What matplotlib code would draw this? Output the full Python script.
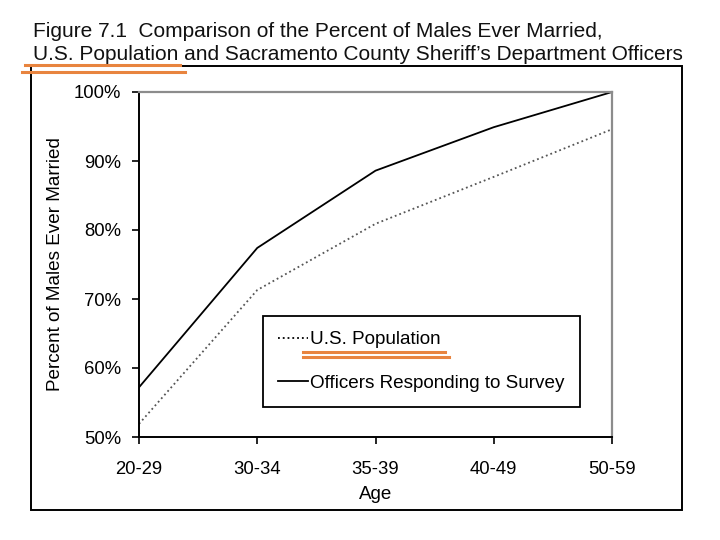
import matplotlib
matplotlib.use("Agg")
import matplotlib.pyplot as plt
from matplotlib.patches import Rectangle
from matplotlib.lines import Line2D
from matplotlib.ticker import FuncFormatter

plt.rcParams['font.family'] = ['Liberation Sans', 'DejaVu Sans']

# Data
age_groups = ["20-29", "30-34", "35-39", "40-49", "50-59"]
us_population = [51.9, 71.3, 80.9, 87.7, 94.6]
officers = [57.2, 77.4, 88.6, 94.9, 100.0]
y_ticks = [50, 60, 70, 80, 90, 100]

W, H = 720, 540
fig = plt.figure(figsize=(7.2, 5.4), dpi=100)


def fx(px):
    return px / W


def fy(py):
    return 1 - py / H


# outer frame around the chart
fig.patches.append(Rectangle((fx(31), fy(510)), fx(682) - fx(31), fy(66) - fy(510),
                             transform=fig.transFigure, fill=False,
                             edgecolor='black', linewidth=1.4, zorder=1))

# title (two lines)
fig.text(fx(33), fy(37), "Figure 7.1  Comparison of the Percent of Males Ever Married,",
         fontsize=15, va='baseline', ha='left', color='#111111')
fig.text(fx(33), fy(60), "U.S. Population and Sacramento County Sheriff\u2019s Department Officers",
         fontsize=15, va='baseline', ha='left', color='#111111')

ax = fig.add_axes([fx(139), fy(437), fx(612) - fx(139), fy(92) - fy(437)])
x = list(range(len(age_groups)))
ax.plot(x, us_population, linestyle=':', color='#555555', linewidth=1.3,
        label='U.S. Population')
ax.plot(x, officers, linestyle='-', color='black', linewidth=1.3,
        label='Officers Responding to Survey')

ax.set_xlim(0, len(age_groups) - 1)
ax.set_ylim(50, 100)
ax.set_xticks(x)
ax.set_xticklabels(age_groups)
ax.set_yticks(y_ticks)
ax.yaxis.set_major_formatter(FuncFormatter(lambda v, p: f"{v:.0f}%"))
ax.tick_params(axis='y', direction='out', length=5, width=1.2, pad=8, labelsize=13.3)
ax.tick_params(axis='x', direction='out', length=5, width=1.2, pad=12, labelsize=13.3)

for side in ['top', 'right']:
    ax.spines[side].set_color('#8c8c8c')
    ax.spines[side].set_linewidth(1.6)
for side in ['left', 'bottom']:
    ax.spines[side].set_color('black')
    ax.spines[side].set_linewidth(1.4)

ax.set_xlabel("Age", fontsize=13.5, labelpad=6)
ax.set_ylabel("Percent of Males Ever Married", fontsize=13.6, labelpad=7)

leg = ax.legend(loc='upper left', bbox_to_anchor=(fx(263), fy(316)),
                bbox_transform=fig.transFigure, borderaxespad=0,
                fontsize=13.6, handlelength=1.6, handletextpad=0.1,
                labelspacing=1.4, borderpad=0.8, fancybox=False,
                framealpha=1, edgecolor='black')
leg.get_frame().set_linewidth(1.3)
# legend dotted handle is black
leg.get_lines()[0].set_color('black')

# orange hand-drawn underlines
orange = '#e8843f'
underlines = [((25, 180), 65), ((22, 185), 72), ((303, 445), 352), ((303, 449), 357)]
for (x0, x1), yy in underlines:
    fig.lines.append(Line2D([fx(x0), fx(x1)], [fy(yy), fy(yy)],
                            transform=fig.transFigure, color=orange,
                            linewidth=2.2, zorder=5))

fig.savefig("out.png", dpi=100)
